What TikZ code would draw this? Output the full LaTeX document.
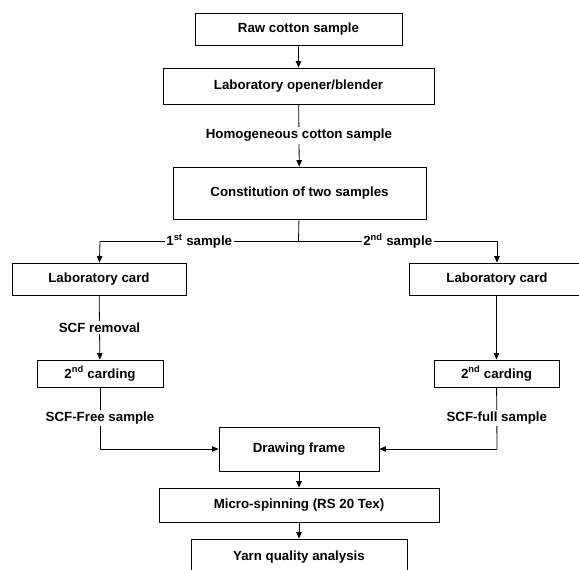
\documentclass[tikz,border=0pt]{standalone}
\usepackage{fontspec}
\setmainfont{Liberation Sans}
\usetikzlibrary{arrows.meta}
\begin{document}
\begin{tikzpicture}[x=1pt,y=-1pt,
  txt/.style={font=\fontsize{13.3}{16}\selectfont\bfseries},
  box/.style={txt,draw=black,line width=0.9pt,fill=white,inner sep=0pt},
  lbl/.style={txt,fill=white,inner sep=1.8pt},
  conn/.style={line width=0.8pt,draw=black},
  arr/.style={conn,-{Triangle[length=6.5pt,width=5.5pt]}}]
\clip (0,0) rectangle (579,570);
\fill[white] (0,0) rectangle (579,570);

% boxes
\node[box,minimum width=207pt,minimum height=32pt] (raw) at (298.5,29) {Raw cotton sample};
\node[box,minimum width=271pt,minimum height=36pt] (open) at (298.5,86) {Laboratory opener/blender};
\node[box,minimum width=253pt,minimum height=52pt] (const) at (299.5,193) {Constitution of two samples};
\node[box,minimum width=174pt,minimum height=32pt] (lcard) at (99,279) {Laboratory card};
\node[box,minimum width=176pt,minimum height=32pt] (rcard) at (497,279) {Laboratory card};
\node[box,minimum width=126pt,minimum height=27pt] (lcard2) at (100,373.5) {2\textsuperscript{nd} carding};
\node[box,minimum width=125pt,minimum height=27pt] (rcard2) at (496.5,373.5) {2\textsuperscript{nd} carding};
\node[box,minimum width=160pt,minimum height=44pt] (draw) at (299,449) {Drawing frame};
\node[box,minimum width=280pt,minimum height=34pt] (micro) at (299,505) {Micro-spinning (RS 20 Tex)};
\node[box,minimum width=216pt,minimum height=36pt] (yarn) at (299,557) {Yarn quality analysis};

% helper coordinates
\coordinate (br) at (298.5,241);
\coordinate (bl) at (100,241);
\coordinate (brr) at (497,241);
\coordinate (ll) at (100,449);
\coordinate (rr) at (497,449);

% connectors
\draw[arr] (raw) -- (open);
\draw[arr] (open) -- node[lbl] {Homogeneous cotton sample} (const);
\draw[conn] (const) -- (br);
\draw[conn] (br) -- node[lbl] {1\textsuperscript{st} sample} (bl);
\draw[arr] (bl) -- (lcard);
\draw[conn] (br) -- node[lbl] {2\textsuperscript{nd} sample} (brr);
\draw[arr] (brr) -- (rcard.north -| brr);
\draw[arr] (lcard) -- node[lbl] {SCF removal} (lcard2);
\draw[arr] (rcard.south -| rcard2) -- (rcard2);
\draw[conn] (lcard2) -- node[lbl] {SCF-Free sample} (ll);
\draw[arr] (ll) -- (draw);
\draw[conn] (rcard2) -- node[lbl] {SCF-full sample} (rr);
\draw[arr] (rr) -- (draw);
\draw[arr] (draw) -- (micro);
\draw[arr] (micro) -- (yarn);
\end{tikzpicture}
\end{document}
